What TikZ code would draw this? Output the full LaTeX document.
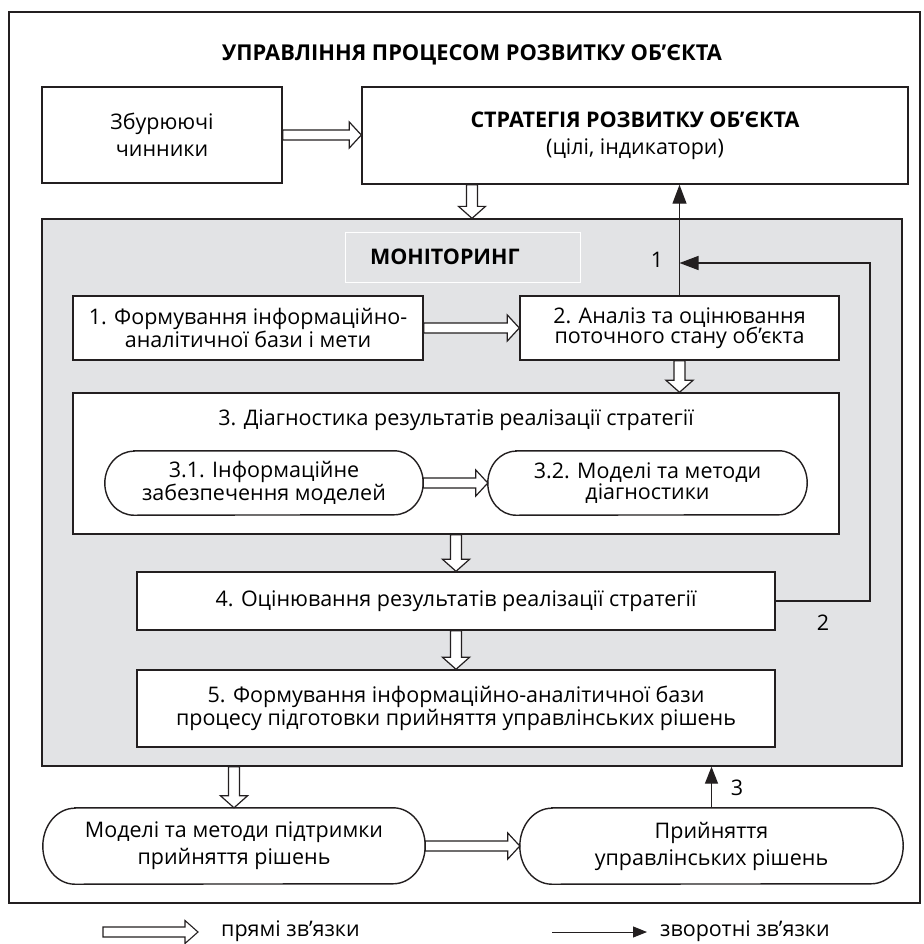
\documentclass[tikz,border=0pt]{standalone}
\usepackage{fontspec}
\setmainfont{Open Sans}
\usetikzlibrary{arrows.meta,calc,backgrounds}
\definecolor{gfill}{HTML}{E2E3E5}
\definecolor{ink}{HTML}{231F20}
\newlength\tmpw
\AtBeginDocument{%
\settowidth{\tmpw}{\fontsize{10}{12}\selectfont процесу підготовки прийняття управлінських рішень}%
\pgfmathsetmacro\fszb{10*560/\tmpw}%
\settowidth{\tmpw}{\fontsize{10}{12}\selectfont\bfseries УПРАВЛІННЯ ПРОЦЕСОМ РОЗВИТКУ ОБ’ЄКТА}%
\pgfmathsetmacro\fszt{10*500/\tmpw}%
\settowidth{\tmpw}{\fontsize{10}{12}\selectfont\bfseries СТРАТЕГІЯ РОЗВИТКУ ОБ’ЄКТА}%
\pgfmathsetmacro\fszs{10*329/\tmpw}%
}
\newcommand\mytxt{\fontsize{\fszb}{20.5}\selectfont}
\newcommand\mybig{\fontsize{\fszb}{27}\selectfont}
\newcommand\rarrow[2]{\draw[hollow] let \p1=(#1), \p2=(#2) in (\x1,\y1+5pt) -- (\x2-12pt,\y1+5pt) -- (\x2-12pt,\y1+13pt) -- (\x2,\y1) -- (\x2-12pt,\y1-13pt) -- (\x2-12pt,\y1-5pt) -- (\x1,\y1-5pt) -- cycle;}
\newcommand\darrow[2]{\draw[hollow] let \p1=(#1), \p2=(#2) in (\x1-5.5pt,\y1) -- (\x1-5.5pt,\y2+12pt) -- (\x1-13.5pt,\y2+12pt) -- (\x1,\y2) -- (\x1+13.5pt,\y2+12pt) -- (\x1+5.5pt,\y2+12pt) -- (\x1+5.5pt,\y1) -- cycle;}
\newcommand\pillpath[3]{\path[pillline] ([xshift=#2]#1.north west) -- ([xshift=-#2]#1.north east) arc[start angle=90,end angle=-90,x radius=#2,y radius=#3] -- ([xshift=#2]#1.south west) arc[start angle=270,end angle=90,x radius=#2,y radius=#3] -- cycle;}
\begin{document}
\begin{tikzpicture}[x=1pt,y=-1pt,line join=miter,
  box/.style={draw=ink,line width=1.4pt,fill=white,inner sep=0pt,align=center,font=\mytxt},
  pilltext/.style={draw=none,inner sep=0pt,align=center,font=\mytxt},
  pillline/.style={draw=ink,line width=1.4pt,fill=white},
  hollow/.style={draw=ink,line width=1.2pt,fill=white},
  fb/.style={draw=ink,line width=1.3pt,-{Triangle[length=19pt,width=14pt]}},
  lbl/.style={font=\mytxt,inner sep=0pt}]
\useasboundingbox (0,0) rectangle (923,944);
% outer frame
\draw[ink,line width=2.2pt] (9,12) rectangle (920,903);
% title
\node[font=\fontsize{\fszt}{24}\selectfont\bfseries,inner sep=0pt] (title) at (472,55) {УПРАВЛІННЯ ПРОЦЕСОМ РОЗВИТКУ ОБ’ЄКТА};
% top boxes
\node[box,font=\mybig,minimum width=240pt,minimum height=96pt] (zb) at (162,135) {Збурюючі\\чинники};
\node[box,font=\mybig,minimum width=546pt,minimum height=97pt] (strat) at (635,135.5) {{\fontsize{\fszs}{27}\selectfont\bfseries СТРАТЕГІЯ РОЗВИТКУ ОБ’ЄКТА}\\(цілі, індикатори)};
% monitoring area
\begin{scope}[on background layer]
\node[draw=ink,line width=1.3pt,fill=gfill,minimum width=860pt,minimum height=547pt,inner sep=0pt] (gray) at (472,492.5) {};
\node[box,minimum width=766pt,minimum height=141pt] (b3) at (456,463.5) {};
\end{scope}
\node[draw=white,line width=0.8pt,minimum width=235pt,minimum height=50pt,inner sep=0pt,text width=185pt,align=left,font=\mytxt\bfseries] (mon) at (462.5,257) {МОНІТОРИНГ};
\node[box,minimum width=350pt,minimum height=64pt] (b1) at (248,328) {1. Формування інформаційно-\\аналітичної бази і мети};
\node[box,minimum width=319pt,minimum height=64pt] (b2) at (679.5,328) {2. Аналіз та оцінювання\\поточного стану об’єкта};
\node[lbl] (b3t) at (456,420) {3. Діагностика результатів реалізації стратегії};
\node[pilltext,minimum width=318pt,minimum height=64pt] (n31) at (264,483) {3.1. Інформаційне\\забезпечення моделей};
\node[pilltext,minimum width=319pt,minimum height=64pt] (n32) at (647.5,483) {3.2. Моделі та методи\\діагностики};
\node[box,minimum width=638pt,minimum height=58pt] (b4) at (456,601) {4. Оцінювання результатів реалізації стратегії};
\node[box,minimum width=638pt,minimum height=77pt] (b5) at (456,708.5) {5. Формування інформаційно-аналітичної бази\\процесу підготовки прийняття управлінських рішень};
% bottom pills
\node[pilltext,font=\mybig,minimum width=382pt,minimum height=76pt] (m1) at (234,846) {Моделі та методи підтримки\\прийняття рішень};
\node[pilltext,font=\mybig,minimum width=383pt,minimum height=76pt] (m2) at (711.5,846) {Прийняття\\управлінських рішень};
\begin{scope}[on background layer]
\pillpath{n31}{29pt}{32pt}
\pillpath{n32}{28pt}{32pt}
\pillpath{m1}{32pt}{38pt}
\pillpath{m2}{32pt}{38pt}
\end{scope}
% direct links
\rarrow{zb.east}{strat.west}
\darrow{strat.south -| title.center}{gray.north}
\rarrow{b1.east}{b2.west}
\darrow{b2.south}{b3.north}
\rarrow{n31.east}{n32.west}
\darrow{b3.south}{b4.north}
\darrow{b4.south}{b5.north}
\darrow{gray.south -| m1.north}{m1.north}
\rarrow{m1.east}{m2.west}
% feedback links
\coordinate (c1) at (870,263);
\coordinate (c2) at (870,601);
\draw[fb] (b2.north) -- (b2.north |- strat.south);
\draw[fb] (b4.east) -- (c2) -- (c1) -- (b2.north |- c1);
\draw[fb,-{Triangle[length=17pt,width=13pt]}] (m2.north) -- (m2.north |- gray.south);
\node[lbl] (l1) at (657,260) {1};
\node[lbl] (l2) at (823,623) {2};
\node[lbl] (l3) at (737,788) {3};
% legend
\coordinate (la1) at (103,932);
\coordinate (la2) at (198,932);
\coordinate (lb1) at (552,932);
\coordinate (lb2) at (647,932);
\draw[hollow,line width=1.1pt] let \p1=(la1), \p2=(la2) in (\x1,\y1+5pt) -- (\x2-13pt,\y1+5pt) -- (\x2-13pt,\y1+11.5pt) -- (\x2,\y1) -- (\x2-13pt,\y1-11.5pt) -- (\x2-13pt,\y1-5pt) -- (\x1,\y1-5pt) -- cycle;
\node[lbl,anchor=west] (lta) at (221,931) {прямі зв’язки};
\draw[draw=ink,line width=1pt,-{Triangle[length=14pt,width=11pt]}] (lb1) -- (lb2);
\node[lbl,anchor=west] (ltb) at (660,931) {зворотні зв’язки};
\end{tikzpicture}
\end{document}
